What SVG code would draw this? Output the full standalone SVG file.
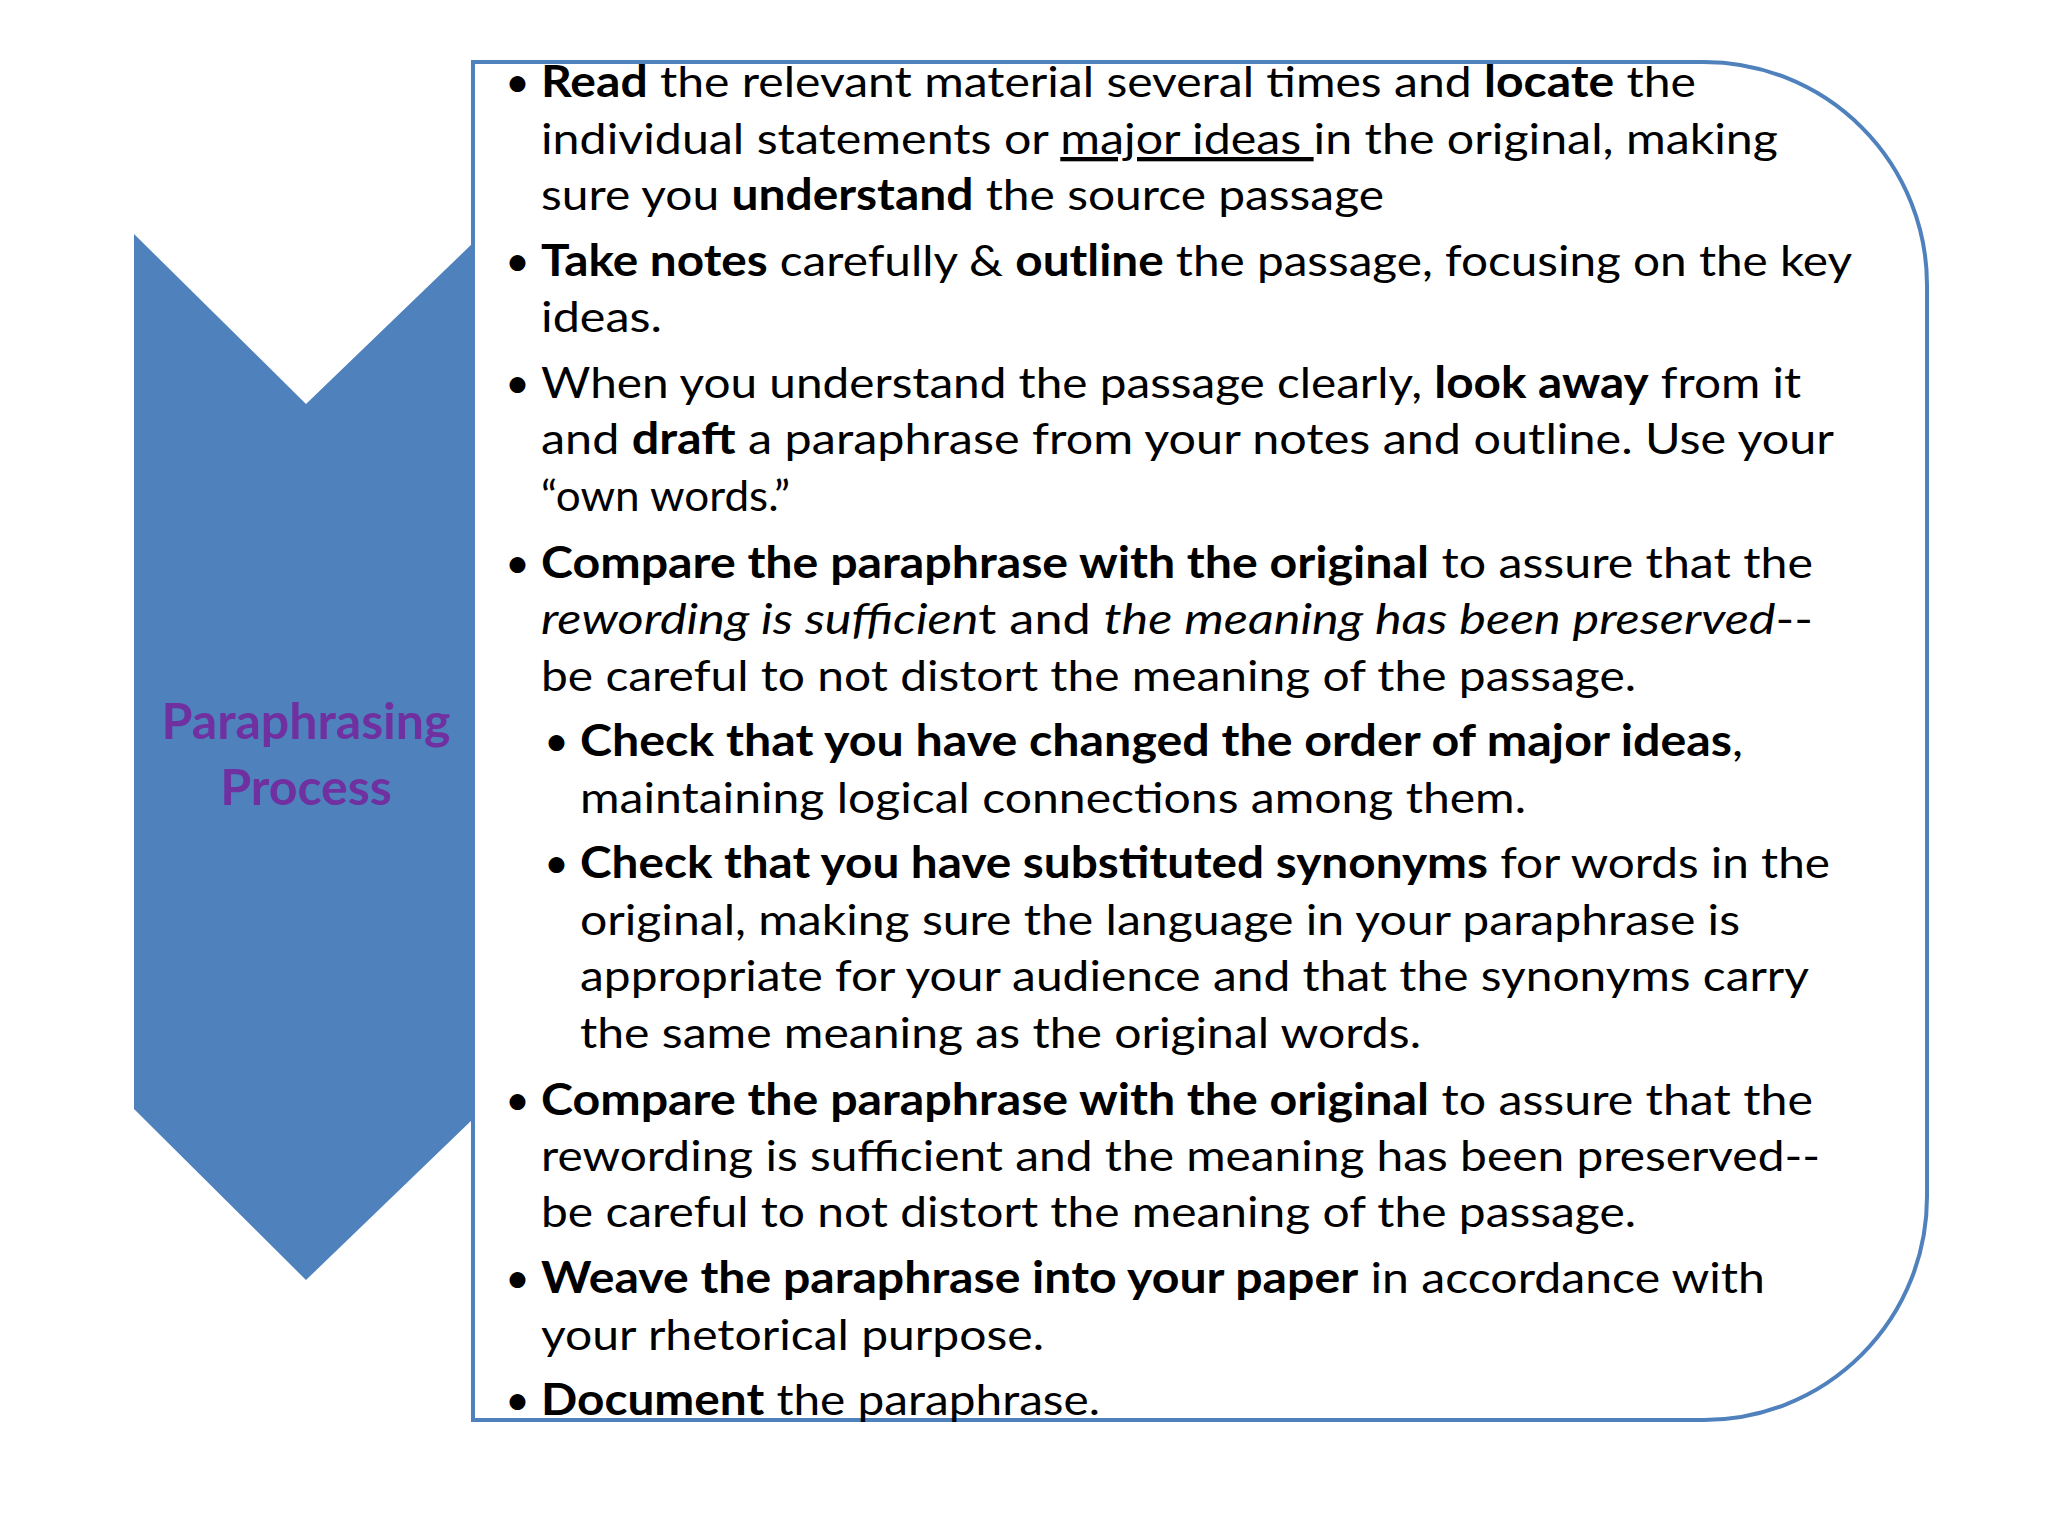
<svg xmlns="http://www.w3.org/2000/svg" width="2048" height="1536" viewBox="0 0 2048 1536">
<style>
.t{font-family:Lato,"Open Sans","Liberation Sans",sans-serif;font-size:43px;fill:#000}
.b{font-weight:bold}
.i{font-style:italic}
</style>
<rect width="2048" height="1536" fill="#fff"/>
<g id="chevron">
<polygon points="134,234 306,404 473,243 473,1119 306,1280 134,1109" fill="#4F81BD"/>
<text x="306" y="739" text-anchor="middle" font-family="Lato,'Open Sans',sans-serif" font-weight="bold" font-size="50" fill="#7030A0">Paraphrasing</text>
<text x="306" y="805" text-anchor="middle" font-family="Lato,'Open Sans',sans-serif" font-weight="bold" font-size="50" fill="#7030A0">Process</text>
</g>
<g id="box">
<path d="M473,62 H1704 A223,223 0 0 1 1927,285 V1197 A223,223 0 0 1 1704,1420 H473 Z" fill="none" stroke="#4F81BD" stroke-width="4"/>
</g>
<g id="text" class="t">
<text x="505" y="97">•</text><text x="541" y="97" textLength="1155" lengthAdjust="spacingAndGlyphs"><tspan class="b">Read</tspan> the relevant material several times and <tspan class="b">locate</tspan> the</text>
<text x="541" y="154" textLength="1237" lengthAdjust="spacingAndGlyphs">individual statements or <tspan text-decoration="underline">major ideas </tspan>in the original, making</text>
<text x="541" y="210" textLength="843" lengthAdjust="spacingAndGlyphs">sure you <tspan class="b">understand</tspan> the source passage</text>
<text x="505" y="276">•</text><text x="541" y="276" textLength="1311" lengthAdjust="spacingAndGlyphs"><tspan class="b">Take notes</tspan> carefully &amp; <tspan class="b">outline</tspan> the passage, focusing on the key</text>
<text x="541" y="332" textLength="121" lengthAdjust="spacingAndGlyphs">ideas.</text>
<text x="505" y="398">•</text><text x="541" y="398" textLength="1260" lengthAdjust="spacingAndGlyphs">When you understand the passage clearly, <tspan class="b">look away</tspan> from it</text>
<text x="541" y="454" textLength="1293" lengthAdjust="spacingAndGlyphs">and <tspan class="b">draft</tspan> a paraphrase from your notes and outline.  Use your</text>
<text x="541" y="511" textLength="249" lengthAdjust="spacingAndGlyphs">“own words.”</text>
<text x="505" y="578">•</text><text x="541" y="578" textLength="1272" lengthAdjust="spacingAndGlyphs"><tspan class="b">Compare the paraphrase with the original</tspan> to assure that the</text>
<text x="541" y="634" textLength="1272" lengthAdjust="spacingAndGlyphs"><tspan class="i">rewording is sufficien</tspan>t and <tspan class="i">the meaning has been preserved</tspan>--</text>
<text x="541" y="691" textLength="1095" lengthAdjust="spacingAndGlyphs">be careful to not distort the meaning of the passage.</text>
<text x="544" y="756">•</text><text x="580" y="756" textLength="1163" lengthAdjust="spacingAndGlyphs"><tspan class="b">Check that you have changed the order of major ideas</tspan>,</text>
<text x="580" y="813" textLength="946" lengthAdjust="spacingAndGlyphs">maintaining logical connections among them.</text>
<text x="544" y="878">•</text><text x="580" y="878" textLength="1250" lengthAdjust="spacingAndGlyphs"><tspan class="b">Check that you have substituted synonyms</tspan> for words in the</text>
<text x="580" y="935" textLength="1160" lengthAdjust="spacingAndGlyphs">original, making sure the language in your paraphrase is</text>
<text x="580" y="991" textLength="1229" lengthAdjust="spacingAndGlyphs">appropriate for your audience and that the synonyms carry</text>
<text x="580" y="1048" textLength="841" lengthAdjust="spacingAndGlyphs">the same meaning as the original words.</text>
<text x="505" y="1115">•</text><text x="541" y="1115" textLength="1272" lengthAdjust="spacingAndGlyphs"><tspan class="b">Compare the paraphrase with the original</tspan> to assure that the</text>
<text x="541" y="1171" textLength="1279" lengthAdjust="spacingAndGlyphs">rewording is sufficient and the meaning has been preserved--</text>
<text x="541" y="1227" textLength="1095" lengthAdjust="spacingAndGlyphs">be careful to not distort the meaning of the passage.</text>
<text x="505" y="1293">•</text><text x="541" y="1293" textLength="1224" lengthAdjust="spacingAndGlyphs"><tspan class="b">Weave the paraphrase into your paper</tspan> in accordance with</text>
<text x="541" y="1350" textLength="503" lengthAdjust="spacingAndGlyphs">your rhetorical purpose.</text>
<text x="505" y="1415">•</text><text x="541" y="1415" textLength="559" lengthAdjust="spacingAndGlyphs"><tspan class="b">Document</tspan> the paraphrase.</text>
</g>
</svg>
